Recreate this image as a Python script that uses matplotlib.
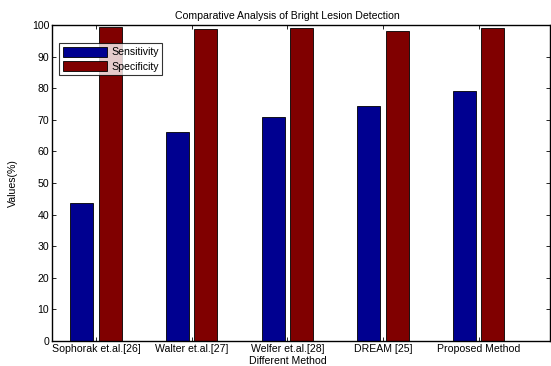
import matplotlib
matplotlib.use("Agg")
import matplotlib.pyplot as plt
import numpy as np

plt.rcParams['font.family'] = ['Liberation Sans', 'DejaVu Sans']

methods = ["Sophorak et.al.[26]", "Walter et.al.[27]", "Welfer et.al.[28]", "DREAM [25]", "Proposed Method"]
sensitivity = [43.7, 66.0, 70.8, 74.5, 79.1]
specificity = [99.5, 98.7, 99.0, 98.1, 99.0]
yticks = list(range(0, 101, 10))

fig = plt.figure(figsize=(5.51, 3.66), dpi=100)
W, H = 551, 366
ax = fig.add_axes([52 / W, 1 - 341 / H, (550 - 52) / W, (341 - 25) / H])

x = np.arange(1, len(methods) + 1)
off = 0.147
w = 0.24
ax.bar(x - off, sensitivity, w, color='#000090', edgecolor='black', linewidth=0.6, label='Sensitivity')
ax.bar(x + off, specificity, w, color='#800000', edgecolor='black', linewidth=0.6, label='Specificity')

fs = 7.6
ax.set_xlim(0.54, 5.745)
ax.set_ylim(0, 100)
ax.set_xticks(x)
ax.set_xticklabels(methods, fontsize=fs)
ax.set_yticks(yticks)
ax.set_yticklabels([str(v) for v in yticks], fontsize=fs)
ax.tick_params(direction='in', length=3, width=0.6, top=True, right=True, pad=2)
for s in ax.spines.values():
    s.set_linewidth(1.0)

trans = ax.get_xaxis_transform()
ax.text(3, 1.012, "Comparative Analysis of Bright Lesion Detection", transform=trans,
        ha='center', va='bottom', fontsize=fs)
ax.text(3, -0.046, "Different Method", transform=trans, ha='center', va='top', fontsize=fs)
fig.text(13 / W, 1 - 183 / H, "Values(%)", rotation=90, ha='center', va='center', fontsize=fs)

leg = ax.legend(loc='upper left', bbox_to_anchor=((59 - 52) / (550 - 52), (341 - 43) / (341 - 25)),
                fontsize=fs, frameon=True, fancybox=False, edgecolor='black',
                handlelength=4.2, handleheight=1.1, borderpad=0.35, labelspacing=0.35,
                handletextpad=0.4, borderaxespad=0)
leg.get_frame().set_linewidth(0.8)

fig.savefig("out.png", dpi=100)
